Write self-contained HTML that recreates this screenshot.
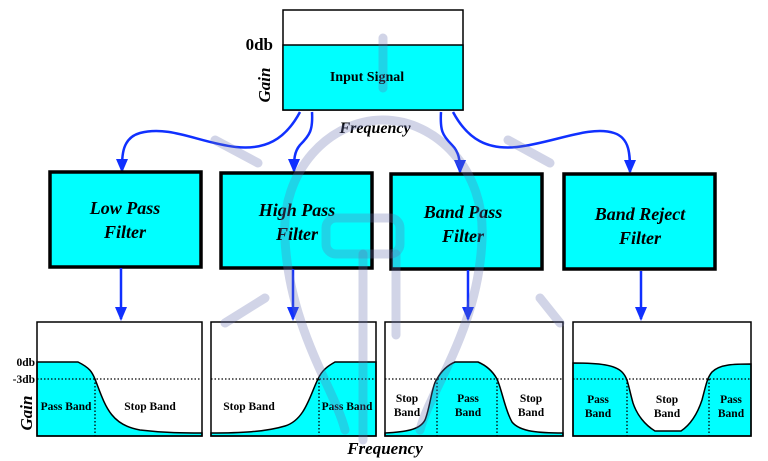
<!DOCTYPE html>
<html><head><meta charset="utf-8"><style>
html,body{margin:0;padding:0;background:#fff;}
svg{display:block;}
text{font-family:"Liberation Serif",serif;font-weight:bold;fill:#000;}
</style></head><body>
<svg width="768" height="461" viewBox="0 0 768 461" xmlns="http://www.w3.org/2000/svg">
<defs>
<marker id="ah" markerWidth="14" markerHeight="12" refX="12" refY="6" orient="auto" markerUnits="userSpaceOnUse" viewBox="0 0 14 12">
<path d="M0,0 L14,6 L0,12 z" fill="#1030ff"/></marker>
</defs>

<!-- Input signal -->
<rect x="283" y="10" width="180" height="100" fill="#fff" stroke="#000" stroke-width="1.5"/>
<rect x="283" y="45" width="180" height="65" fill="#00ffff" stroke="#000" stroke-width="1.5"/>
<text x="367" y="81" font-size="14" text-anchor="middle">Input Signal</text>
<text x="273" y="50" font-size="17" text-anchor="end">0db</text>
<text transform="translate(270,85) rotate(-90)" font-size="17" font-style="italic" text-anchor="middle">Gain</text>
<text x="375" y="133" font-size="16" font-style="italic" text-anchor="middle">Frequency</text>

<!-- connectors from input -->
<g fill="none" stroke="#1030ff" stroke-width="2.5" marker-end="url(#ah)">
<path d="M300,112 C285,140 265,150 236,147 C200,143 170,125 140,133 C122,138 122,155 122,171"/>
<path d="M312,112 C313,130 310,135 300,145 C294,152 294,160 294,171"/>
<path d="M441,112 C440,130 442,135 452,145 C459,152 460,160 460,172"/>
<path d="M453,112 C468,140 488,150 517,147 C553,143 590,125 614,133 C630,138 630,155 630,172"/>
</g>

<!-- filter boxes -->
<g stroke="#000" stroke-width="3.5" fill="#00ffff">
<rect x="50" y="172" width="151" height="95"/>
<rect x="221" y="173" width="151" height="95"/>
<rect x="391" y="174" width="151" height="95"/>
<rect x="564" y="174" width="151" height="95"/>
</g>
<g font-size="18" font-style="italic" text-anchor="middle">
<text x="125" y="214">Low Pass</text><text x="125" y="238">Filter</text>
<text x="297" y="216">High Pass</text><text x="297" y="240">Filter</text>
<text x="463" y="218">Band Pass</text><text x="463" y="242">Filter</text>
<text x="640" y="220">Band Reject</text><text x="640" y="244">Filter</text>
</g>

<!-- down arrows -->
<g stroke="#1030ff" stroke-width="2.5" marker-end="url(#ah)">
<line x1="121" y1="268" x2="121" y2="319"/>
<line x1="293" y1="269" x2="293" y2="319"/>
<line x1="468" y1="270" x2="468" y2="319"/>
<line x1="641" y1="271" x2="641" y2="319"/>
</g>

<!-- graph 1: low pass -->
<rect x="37" y="322" width="165" height="114" fill="#fff"/>
<path d="M37,362 L78,362 C90,368 92,372 95,379 C105,405 110,425 140,430 C165,433 185,433 202,433 L202,436 L37,436 Z" fill="#00ffff" stroke="#000" stroke-width="1.5"/>
<rect x="37" y="322" width="165" height="114" fill="none" stroke="#000" stroke-width="1.5"/>
<!-- graph 2: high pass -->
<rect x="211" y="322" width="165" height="114" fill="#fff"/>
<path d="M211,433 C240,433 265,432 285,426 C305,420 310,395 318,379 C322,370 328,366 335,362 L376,362 L376,436 L211,436 Z" fill="#00ffff" stroke="#000" stroke-width="1.5"/>
<rect x="211" y="322" width="165" height="114" fill="none" stroke="#000" stroke-width="1.5"/>
<!-- graph 3: band pass -->
<rect x="385" y="322" width="178" height="114" fill="#fff"/>
<path d="M385,433 C405,432 420,430 425,420 C430,408 432,385 437,379 C442,370 448,365 455,362 L478,362 C485,365 492,370 497,379 C502,390 505,410 512,422 C520,432 540,433 563,433 L563,436 L385,436 Z" fill="#00ffff" stroke="#000" stroke-width="1.5"/>
<rect x="385" y="322" width="178" height="114" fill="none" stroke="#000" stroke-width="1.5"/>
<!-- graph 4: band reject -->
<rect x="573" y="322" width="178" height="114" fill="#fff"/>
<path d="M573,363 C600,363 615,365 622,372 C628,378 628,385 633,403 C637,415 645,425 655,431 L681,431 C690,425 697,415 702,400 C706,385 707,378 712,372 C720,364 735,364 751,364 L751,436 L573,436 Z" fill="#00ffff" stroke="#000" stroke-width="1.5"/>
<rect x="573" y="322" width="178" height="114" fill="none" stroke="#000" stroke-width="1.5"/>

<!-- dotted lines -->
<g stroke="#000" stroke-width="1.3" stroke-dasharray="1.5,2">
<line x1="37" y1="379" x2="202" y2="379"/><line x1="95" y1="379" x2="95" y2="436"/>
<line x1="211" y1="379" x2="376" y2="379"/><line x1="319" y1="379" x2="319" y2="436"/>
<line x1="385" y1="379" x2="563" y2="379"/><line x1="437" y1="379" x2="437" y2="436"/><line x1="497" y1="379" x2="497" y2="436"/>
<line x1="573" y1="379" x2="751" y2="379"/><line x1="627" y1="379" x2="627" y2="436"/><line x1="709" y1="379" x2="709" y2="436"/>
</g>

<g font-size="11.5">
<text x="35" y="366" text-anchor="end">0db</text>
<text x="35" y="383" text-anchor="end">-3db</text>
<text x="66" y="410" text-anchor="middle">Pass Band</text>
<text x="150" y="410" text-anchor="middle">Stop Band</text>
<text x="249" y="410" text-anchor="middle">Stop Band</text>
<text x="347" y="410" text-anchor="middle">Pass Band</text>
<text x="407" y="402" text-anchor="middle">Stop</text><text x="407" y="416" text-anchor="middle">Band</text>
<text x="468" y="402" text-anchor="middle">Pass</text><text x="468" y="416" text-anchor="middle">Band</text>
<text x="531" y="402" text-anchor="middle">Stop</text><text x="531" y="416" text-anchor="middle">Band</text>
<text x="598" y="403" text-anchor="middle">Pass</text><text x="598" y="417" text-anchor="middle">Band</text>
<text x="667" y="403" text-anchor="middle">Stop</text><text x="667" y="417" text-anchor="middle">Band</text>
<text x="731" y="403" text-anchor="middle">Pass</text><text x="731" y="417" text-anchor="middle">Band</text>
</g>
<text transform="translate(32,413) rotate(-90)" font-size="17" font-style="italic" text-anchor="middle">Gain</text>
<text x="385" y="454" font-size="17" font-style="italic" text-anchor="middle">Frequency</text>

<!-- watermark -->
<g fill="none" stroke="#6870b0" stroke-opacity="0.3" stroke-width="9" stroke-linecap="round">
<line x1="383" y1="38" x2="383" y2="88"/>
<line x1="215" y1="140" x2="258" y2="163"/>
<line x1="550" y1="163" x2="508" y2="140"/>
<path d="M345,430 C335,390 290,330 285,240 C280,170 330,120 383,120 C436,120 486,170 482,240 C478,330 430,390 420,430"/>
<line x1="225" y1="323" x2="265" y2="298"/>
<line x1="540" y1="298" x2="560" y2="323"/>
<rect x="326" y="218" width="74" height="36" rx="10"/>
<line x1="363" y1="254" x2="363" y2="440"/>
<line x1="396" y1="254" x2="396" y2="335"/>
</g>
</svg>
</body></html>
